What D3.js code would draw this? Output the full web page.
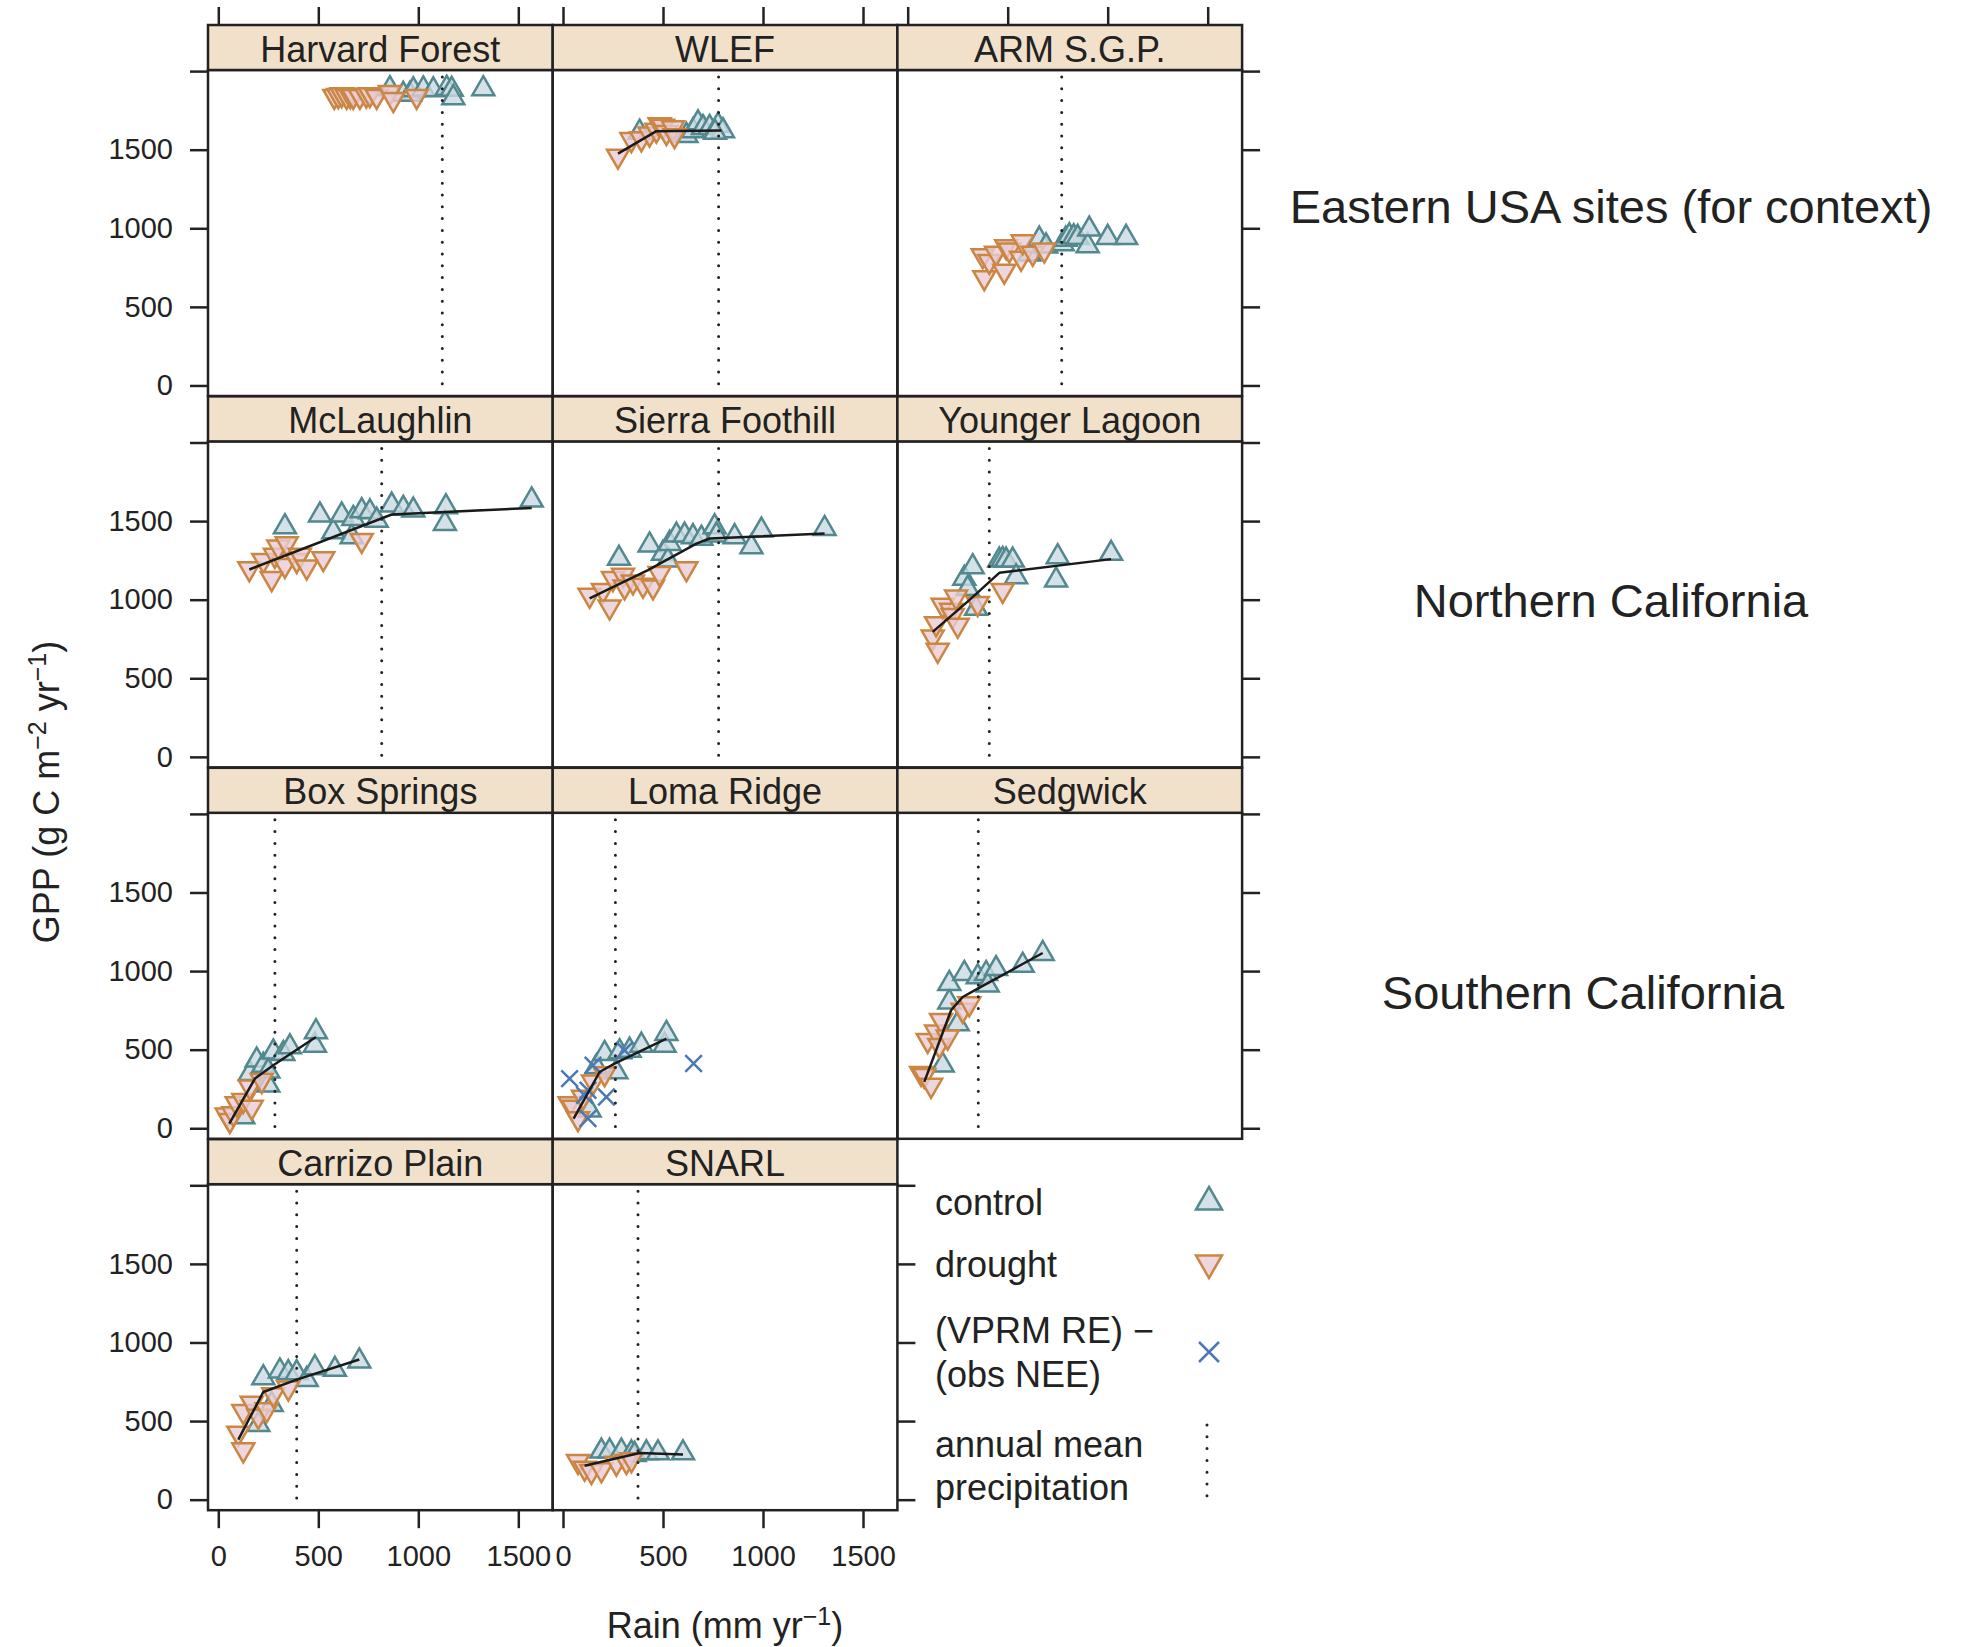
<!DOCTYPE html>
<html>
<head>
<meta charset="utf-8">
<title>GPP vs rain by site - D3.js</title>
<script src="https://d3js.org/d3.v7.min.js"></script>
<style>
body { margin: 0; background: #fff; }
svg { font-family: "Liberation Sans", Arial, Helvetica, sans-serif; }
.border { fill: none; stroke: #222; stroke-width: 2.5px; }
.strip { fill: #f2e1ca; stroke: #222; stroke-width: 2.5px; }
.strip-text { font-size: 36px; fill: #222; text-anchor: middle; }
.axis path.domain { display: none; }
.axis line { stroke: #222; stroke-width: 2.5px; }
.axis text { font-size: 29px; fill: #222; font-family: "Liberation Sans", Arial, sans-serif; }
.fit { fill: none; stroke: #1a1a1a; stroke-width: 2.5px; stroke-linejoin: round; }
.mean { stroke: #222; stroke-width: 3px; stroke-linecap: round; stroke-dasharray: 0 11.8; }
.ctrl { fill: #c9dae2; fill-opacity: 0.8; stroke: #52888e; stroke-width: 2.5px; }
.drt { fill: #e9ccd6; fill-opacity: 0.8; stroke: #cc8644; stroke-width: 2.5px; }
.vprm { stroke: #4b79b5; stroke-width: 2.5px; }
.title { font-size: 36px; fill: #222; }
.group { font-size: 47px; fill: #222; text-anchor: middle; }
.legend text { font-size: 36px; fill: #222; }
</style>
</head>
<body>
<svg width="1961" height="1647"></svg>

<script>
const sites = ["Harvard Forest", "WLEF", "ARM S.G.P.",
  "McLaughlin", "Sierra Foothill", "Younger Lagoon",
  "Box Springs", "Loma Ridge", "Sedgwick",
  "Carrizo Plain", "SNARL"];

// annual mean precipitation (mm/yr), one per site
const meanPrecip = [1120, 778, 770, 817, 778, 408, 283, 262, 353, 392, 375];

// [rain, GPP] pairs per site
const controlPts = [
  [[858,1887],[925,1851],[958,1851],[975,1880],[1025,1885],[1075,1880],[1142,1890],[1167,1883],[1175,1830],[1325,1887]],
  [[383,1610],[617,1590],[650,1620],[675,1670],[700,1640],[733,1640],[775,1655],[800,1620],[760,1610]],
  [[608,836],[658,930],[692,887],[775,900],[790,930],[808,952],[830,945],[850,941],[900,888],[908,994],[1000,941],[1092,941]],
  [[333,1463],[508,1538],[575,1431],[617,1538],[667,1400],[675,1516],[717,1565],[758,1558],[792,1505],[867,1601],[925,1580],[975,1569],[1133,1484],[1138,1590],[1567,1633]],
  [[280,1262],[433,1347],[500,1294],[525,1251],[533,1357],[567,1410],[608,1410],[650,1400],[692,1390],[758,1463],[767,1410],[858,1400],[942,1336],[992,1442],[1308,1452]],
  [[283,1135],[300,1071],[325,1209],[342,944],[458,1251],[475,1255],[492,1251],[525,1251],[542,1145],[742,1124],[750,1272],[1017,1294]],
  [[125,72],[158,348],[192,433],[225,400],[250,274],[250,364],[275,484],[325,475],[358,517],[483,528],[488,613]],
  [[133,115],[167,390],[208,475],[267,358],[283,486],[333,496],[392,528],[508,528],[517,602]],
  [[175,401],[208,803],[208,920],[250,664],[283,984],[350,963],[392,984],[400,910],[442,1015],[575,1036],[675,1111]],
  [[200,478],[225,775],[267,605],[308,818],[350,807],[392,807],[442,764],[483,839],[583,828],[705,881]],
  [[192,308],[233,308],[292,308],[342,297],[358,287],[417,297],[475,297],[600,297]]
];

const droughtPts = [
  [[580,1840],[600,1845],[617,1851],[642,1840],[660,1845],[675,1840],[708,1840],[740,1848],[758,1851],[792,1840],[858,1865],[875,1820],[992,1840]],
  [[275,1460],[342,1565],[392,1570],[433,1600],[467,1625],[483,1660],[500,1650],[517,1610],[550,1640],[558,1590]],
  [[375,826],[383,687],[408,790],[442,842],[483,728],[492,884],[508,863],[567,810],[575,915],[625,842],[683,863]],
  [[155,1198],[225,1251],[267,1135],[283,1283],[300,1336],[333,1219],[342,1357],[392,1251],[408,1283],[442,1209],[525,1262],[717,1378]],
  [[133,1029],[200,1060],[233,954],[250,1135],[300,1156],[308,1082],[350,1114],[400,1093],[450,1082],[483,1167],[617,1198]],
  [[125,763],[142,848],[150,679],[175,965],[217,933],[225,900],[242,1018],[250,838],[350,976],[475,1060]],
  [[42,85],[58,51],[75,93],[92,157],[125,178],[158,263],[167,135],[217,305]],
  [[33,157],[50,135],[75,62],[100,199],[150,295],[208,348]],
  [[67,350],[83,337],[100,560],[117,274],[142,613],[158,528],[167,687],[200,581],[275,751],[308,793]],
  [[100,424],[125,318],[125,562],[167,615],[200,531],[242,573],[275,669],[350,711]],
  [[75,244],[108,201],[142,180],[192,191],[267,233],[317,244],[342,255]]
];

// (VPRM RE) - (obs NEE), only Loma Ridge
const vprmPts = [[], [], [], [], [], [], [],
  [[33,316],[108,210],[125,242],[125,62],[150,401],[217,199],[308,496],[653,412]],
  [], [], []];

// fitted piecewise curves
const fitLines = [
  null,
  [[275,1475],[467,1618],[792,1622]],
  null,
  [[155,1192],[867,1542],[1567,1584]],
  [[133,1008],[425,1188],[667,1357],[733,1389],[1308,1421]],
  [[125,795],[308,997],[458,1171],[1017,1258]],
  [[55,30],[183,316],[275,401],[488,581]],
  [[53,62],[183,358],[258,412],[517,571]],
  [[83,295],[217,751],[275,835],[350,888],[675,1115]],
  [[100,382],[225,685],[392,764],[705,892]],
  [[108,216],[242,255],[383,297],[600,287]]
];

const xTicks = [0, 500, 1000, 1500];
const yTicks = [0, 500, 1000, 1500, 2000];
const yTickLabels = [0, 500, 1000, 1500];

const groupLabels = ["Eastern USA sites (for context)", "Northern California", "Southern California"];
const legendLabels = ["control", "drought", "(VPRM RE) \u2212", "(obs NEE)", "annual mean", "precipitation"];

const svg = d3.select("svg");

const left0 = 208, top0 = 25;
const panelW = 344.7, panelH = 326, stripH = 45, rowPitch = 371.4;

const x = d3.scaleLinear().domain([-51.5, 1672]).range([0, panelW]);
const y = d3.scaleLinear().domain([-67, 2007]).range([panelH, 0]);

function triUp(s) {
  const xc = s / 2, r = s / Math.sqrt(3);
  return `M0,${-r}L${xc},${r / 2}L${-xc},${r / 2}Z`;
}
function triDown(s) {
  const xc = s / 2, r = s / Math.sqrt(3);
  return `M0,${r}L${xc},${-r / 2}L${-xc},${-r / 2}Z`;
}
function cross(h) {
  return `M${-h},${-h}L${h},${h}M${-h},${h}L${h},${-h}`;
}

const line = d3.line().x(d => x(d[0])).y(d => y(d[1]));

sites.forEach((name, i) => {
  const row = Math.floor(i / 3), col = i % 3;
  const sx = left0 + col * panelW;
  const sy = top0 + row * rowPitch;
  const g = svg.append("g").attr("transform", `translate(${sx},${sy + stripH})`);

  // strip
  svg.append("rect").attr("class", "strip")
    .attr("x", sx).attr("y", sy).attr("width", panelW).attr("height", stripH);
  svg.append("text").attr("class", "strip-text")
    .attr("x", sx + panelW / 2).attr("y", sy + 36.5).text(name);

  svg.append("clipPath").attr("id", "clip" + i)
    .append("rect").attr("width", panelW).attr("height", panelH);
  const inner = g.append("g").attr("clip-path", `url(#clip${i})`);

  inner.selectAll(".ctrl").data(controlPts[i]).enter().append("path")
    .attr("class", "ctrl")
    .attr("transform", d => `translate(${x(d[0])},${y(d[1])})`)
    .attr("d", triUp(22));

  inner.selectAll(".drt").data(droughtPts[i]).enter().append("path")
    .attr("class", "drt")
    .attr("transform", d => `translate(${x(d[0])},${y(d[1])})`)
    .attr("d", triDown(22));

  inner.selectAll(".vprm").data(vprmPts[i]).enter().append("path")
    .attr("class", "vprm")
    .attr("transform", d => `translate(${x(d[0])},${y(d[1])})`)
    .attr("d", cross(8.3));

  if (fitLines[i]) {
    inner.append("path").datum(fitLines[i]).attr("class", "fit").attr("d", line);
  }

  inner.append("line").attr("class", "mean")
    .attr("x1", x(meanPrecip[i])).attr("x2", x(meanPrecip[i]))
    .attr("y1", 7).attr("y2", panelH - 4);

  g.append("rect").attr("class", "border").attr("width", panelW).attr("height", panelH);

  // axes
  if (col === 0) {
    g.append("g").attr("class", "axis")
      .call(d3.axisLeft(y).tickValues(yTicks).tickSize(18).tickPadding(17)
        .tickFormat(d => yTickLabels.includes(d) ? String(d) : ""));
  }
  if (col === 2 || i === sites.length - 1) {
    g.append("g").attr("class", "axis").attr("transform", `translate(${panelW},0)`)
      .call(d3.axisRight(y).tickValues(yTicks).tickSize(18).tickFormat(""));
  }
  if (row === 0) {
    svg.append("g").attr("class", "axis").attr("transform", `translate(${sx},${sy})`)
      .call(d3.axisTop(x).tickValues(xTicks).tickSize(18).tickFormat(""));
  }
  if (row === 3) {
    g.append("g").attr("class", "axis").attr("transform", `translate(0,${panelH})`)
      .call(d3.axisBottom(x).tickValues(xTicks).tickSize(18).tickPadding(17)
        .tickFormat(d => String(d)));
  }
});

// axis titles
const yTitle = svg.append("text").attr("class", "title")
  .attr("transform", "translate(59,792) rotate(-90)")
  .attr("text-anchor", "middle");
yTitle.append("tspan").text("GPP (g C m");
yTitle.append("tspan").attr("dy", -13).attr("font-size", 25).text("\u22122");
yTitle.append("tspan").attr("dy", 13).text(" yr");
yTitle.append("tspan").attr("dy", -13).attr("font-size", 25).text("\u22121");
yTitle.append("tspan").attr("dy", 13).text(")");

const xTitle = svg.append("text").attr("class", "title")
  .attr("x", 725).attr("y", 1638).attr("text-anchor", "middle");
xTitle.append("tspan").text("Rain (mm yr");
xTitle.append("tspan").attr("dy", -13).attr("font-size", 25).text("\u22121");
xTitle.append("tspan").attr("dy", 13).text(")");

// group labels on the right
const groupY = [223, 617, 1009];
const groupX = [1611, 1611, 1583];
svg.selectAll(".group").data(groupLabels).enter().append("text")
  .attr("class", "group")
  .attr("x", (d, k) => groupX[k]).attr("y", (d, k) => groupY[k])
  .text(d => d);

// legend
const lg = svg.append("g").attr("class", "legend");
const legendY = [1215, 1277, 1343, 1387, 1457, 1500];
lg.selectAll("text").data(legendLabels).enter().append("text")
  .attr("x", 935).attr("y", (d, k) => legendY[k]).text(d => d);
lg.append("path").attr("class", "ctrl").attr("d", triUp(26))
  .attr("transform", "translate(1209,1202)");
lg.append("path").attr("class", "drt").attr("d", triDown(26))
  .attr("transform", "translate(1209,1263)");
lg.append("path").attr("class", "vprm").attr("d", cross(10))
  .attr("transform", "translate(1209,1352)");
lg.append("line").attr("class", "mean")
  .attr("x1", 1207).attr("x2", 1207).attr("y1", 1425).attr("y2", 1498);
</script>
</body>
</html>
